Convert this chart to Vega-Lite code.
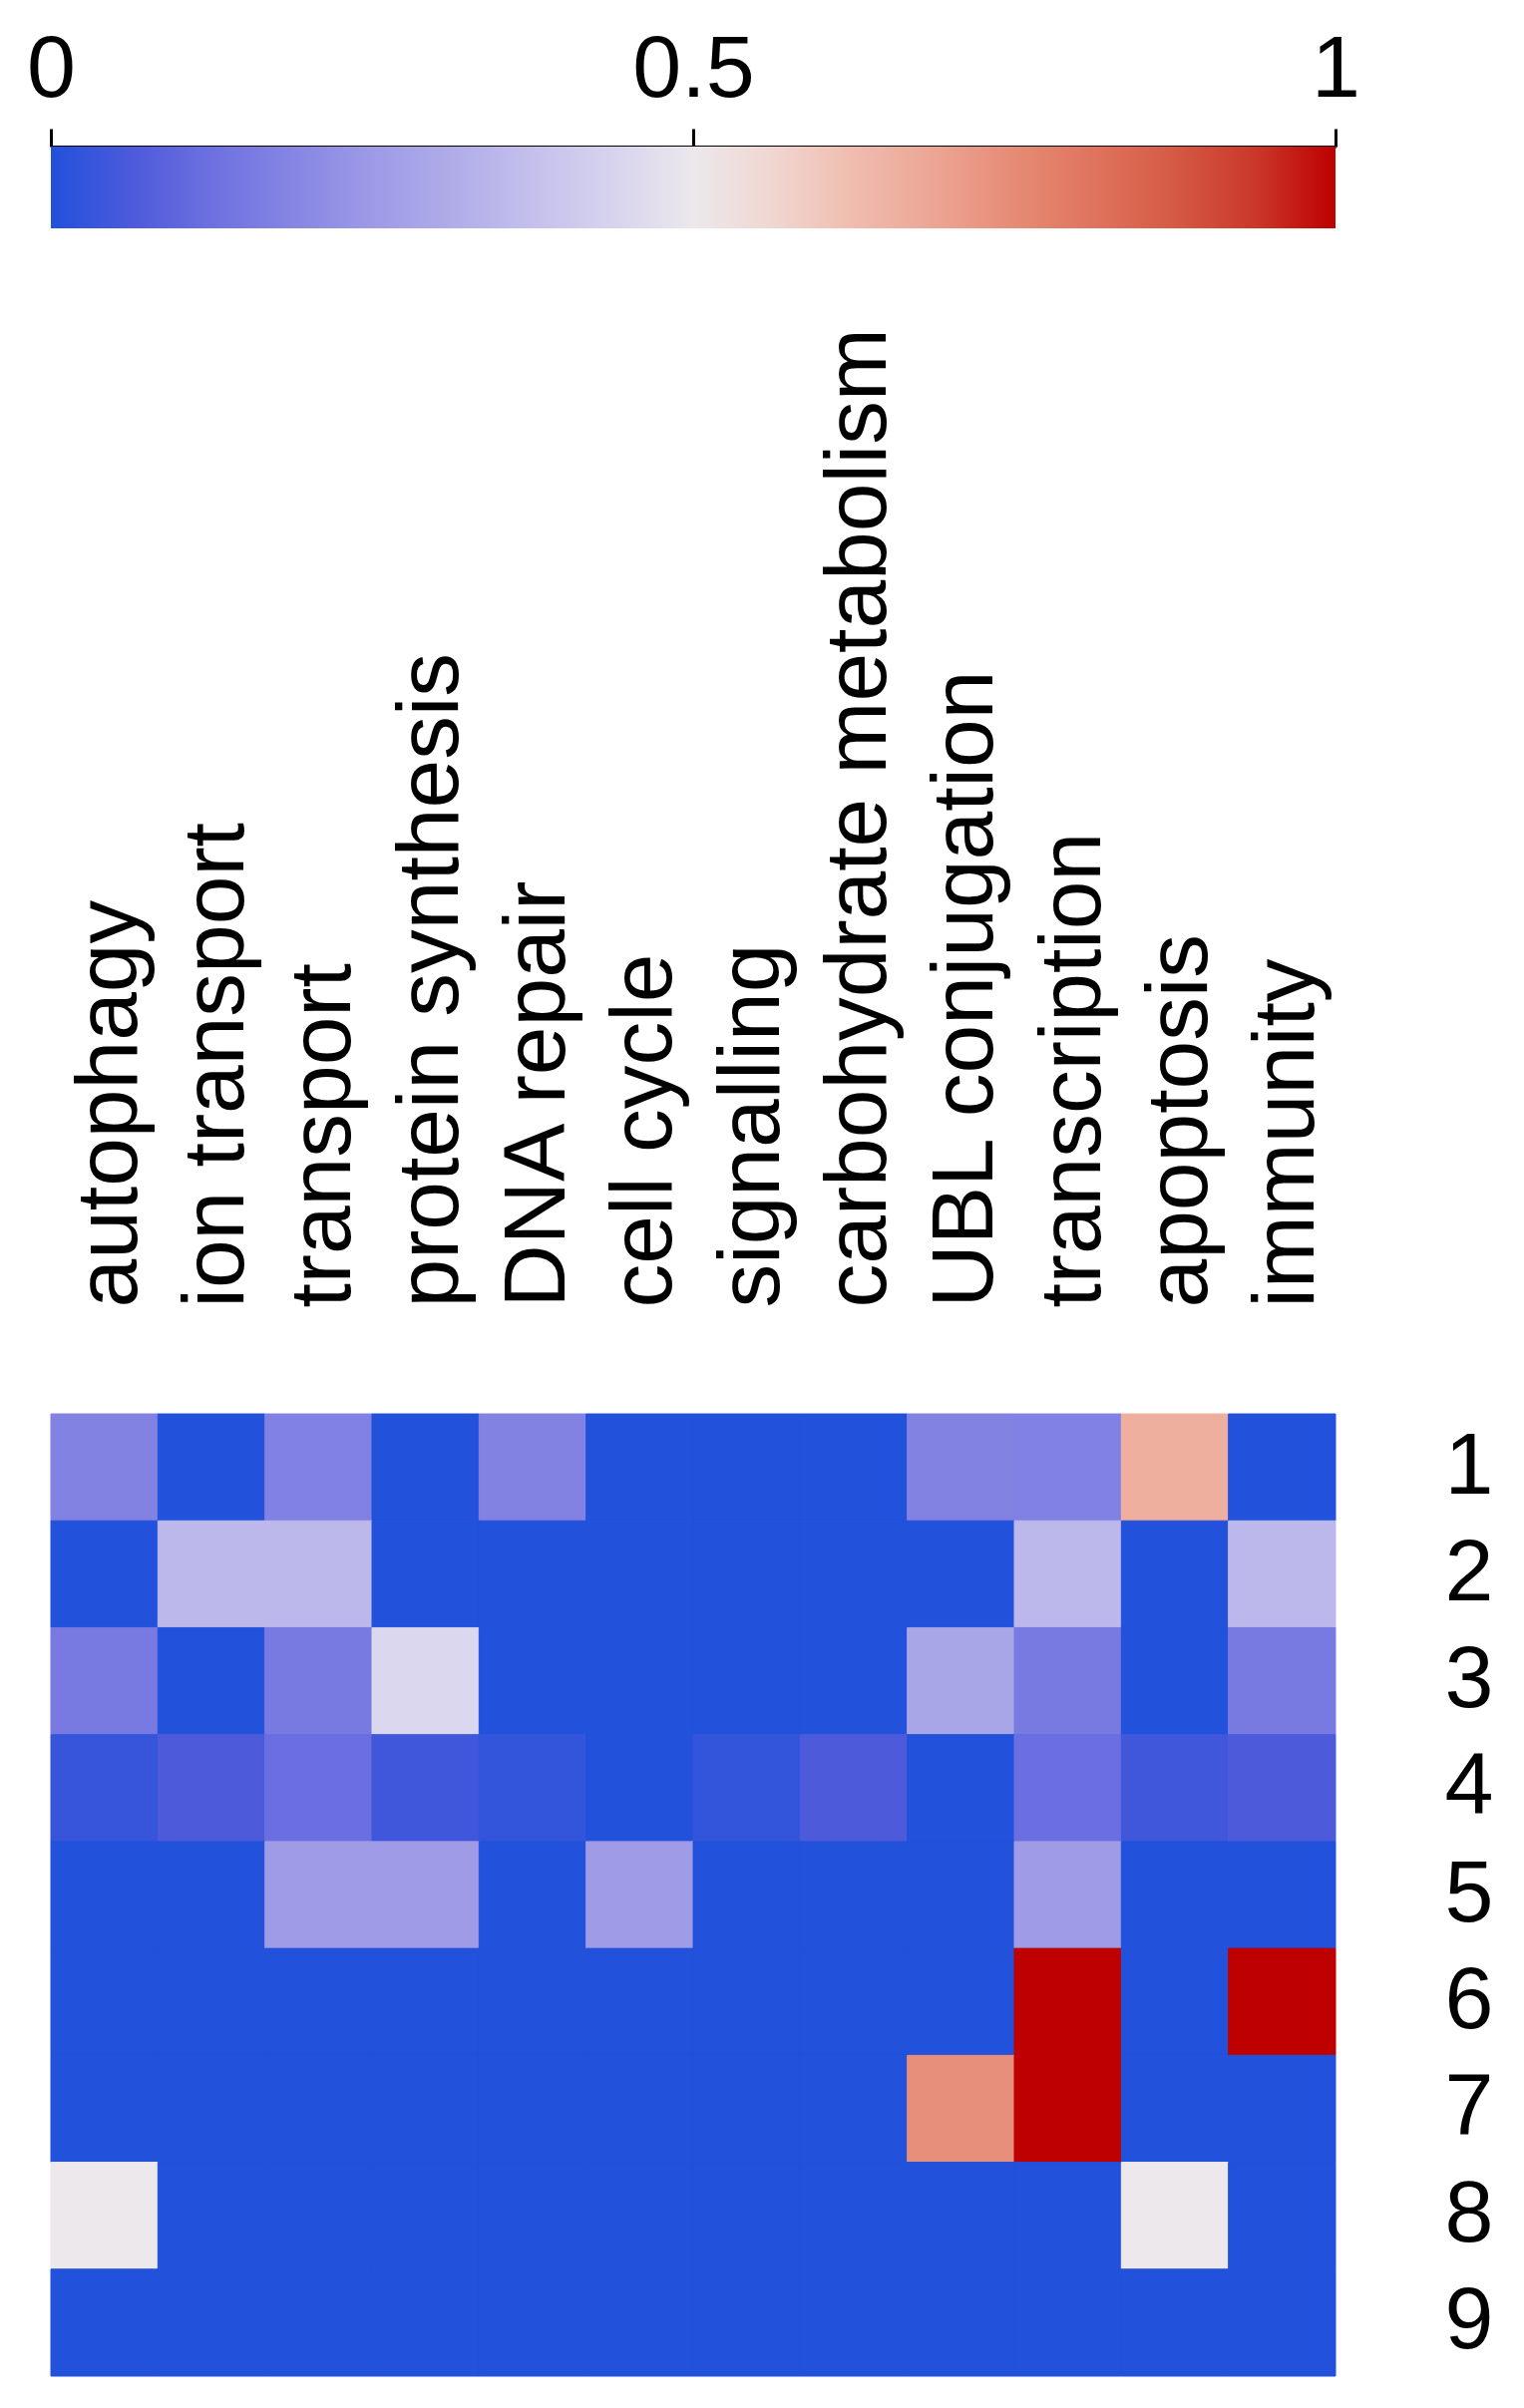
{
  "$schema": "https://vega.github.io/schema/vega-lite/v6.json",
  "padding": {"left": 26, "top": 26, "right": 5, "bottom": 5},
  "config": {"view": {"stroke": null}, "font": "Liberation Sans", "concat": {"spacing": 99}},
  "vconcat": [
    {
      "width": 1288,
      "height": 82,
      "data": {"values": [{"lo": 0, "hi": 1}]},
      "mark": {
        "type": "rect",
        "color": {
          "gradient": "linear", "x1": 0, "y1": 0, "x2": 1, "y2": 0,
          "stops": [
            {"offset": 0, "color": "#2251db"},
            {"offset": 0.0625, "color": "#4c5adb"},
            {"offset": 0.125, "color": "#6d70e0"},
            {"offset": 0.1875, "color": "#8585e3"},
            {"offset": 0.25, "color": "#9d9ae7"},
            {"offset": 0.3125, "color": "#b0ace9"},
            {"offset": 0.375, "color": "#c4c0ec"},
            {"offset": 0.4375, "color": "#d7d3ee"},
            {"offset": 0.5, "color": "#ece8ec"},
            {"offset": 0.5625, "color": "#f0d6d0"},
            {"offset": 0.625, "color": "#f0bcae"},
            {"offset": 0.6875, "color": "#eca594"},
            {"offset": 0.75, "color": "#e68b75"},
            {"offset": 0.8125, "color": "#df735d"},
            {"offset": 0.875, "color": "#d55a43"},
            {"offset": 0.9375, "color": "#ca3828"},
            {"offset": 1, "color": "#be0000"}
          ]
        }
      },
      "encoding": {
        "x": {
          "field": "lo", "type": "quantitative",
          "scale": {"domain": [0, 1], "nice": false, "zero": false},
          "axis": {
            "orient": "top", "values": [0, 0.5, 1], "format": "~g", "title": null,
            "grid": false, "labelFontSize": 88, "labelColor": "black", "labelFlush": false,
            "labelPadding": 15, "tickSize": 18, "tickWidth": 3, "tickColor": "black",
            "domainColor": "black", "domainWidth": 3
          }
        },
        "x2": {"field": "hi"}
      }
    },
    {
      "width": 1288,
      "height": 965,
      "data": {"values": [
        {"r":"1","c":"autophagy","v":0.18},{"r":"1","c":"ion transport","v":0},{"r":"1","c":"transport","v":0.175},{"r":"1","c":"protein synthesis","v":0},{"r":"1","c":"DNA repair","v":0.18},{"r":"1","c":"cell cycle","v":0},{"r":"1","c":"signalling","v":0},{"r":"1","c":"carbohydrate metabolism","v":0},{"r":"1","c":"UBL conjugation","v":0.18},{"r":"1","c":"transcription","v":0.175},{"r":"1","c":"apoptosis","v":0.66},{"r":"1","c":"immunity","v":0},
        {"r":"2","c":"autophagy","v":0},{"r":"2","c":"ion transport","v":0.35},{"r":"2","c":"transport","v":0.35},{"r":"2","c":"protein synthesis","v":0},{"r":"2","c":"DNA repair","v":0},{"r":"2","c":"cell cycle","v":0},{"r":"2","c":"signalling","v":0},{"r":"2","c":"carbohydrate metabolism","v":0},{"r":"2","c":"UBL conjugation","v":0},{"r":"2","c":"transcription","v":0.35},{"r":"2","c":"apoptosis","v":0},{"r":"2","c":"immunity","v":0.35},
        {"r":"3","c":"autophagy","v":0.155},{"r":"3","c":"ion transport","v":0},{"r":"3","c":"transport","v":0.155},{"r":"3","c":"protein synthesis","v":0.45},{"r":"3","c":"DNA repair","v":0},{"r":"3","c":"cell cycle","v":0},{"r":"3","c":"signalling","v":0},{"r":"3","c":"carbohydrate metabolism","v":0},{"r":"3","c":"UBL conjugation","v":0.29},{"r":"3","c":"transcription","v":0.155},{"r":"3","c":"apoptosis","v":0},{"r":"3","c":"immunity","v":0.155},
        {"r":"4","c":"autophagy","v":0.03},{"r":"4","c":"ion transport","v":0.065},{"r":"4","c":"transport","v":0.12},{"r":"4","c":"protein synthesis","v":0.045},{"r":"4","c":"DNA repair","v":0.025},{"r":"4","c":"cell cycle","v":0},{"r":"4","c":"signalling","v":0.025},{"r":"4","c":"carbohydrate metabolism","v":0.065},{"r":"4","c":"UBL conjugation","v":0},{"r":"4","c":"transcription","v":0.12},{"r":"4","c":"apoptosis","v":0.045},{"r":"4","c":"immunity","v":0.065},
        {"r":"5","c":"autophagy","v":0},{"r":"5","c":"ion transport","v":0},{"r":"5","c":"transport","v":0.255},{"r":"5","c":"protein synthesis","v":0.255},{"r":"5","c":"DNA repair","v":0},{"r":"5","c":"cell cycle","v":0.255},{"r":"5","c":"signalling","v":0},{"r":"5","c":"carbohydrate metabolism","v":0},{"r":"5","c":"UBL conjugation","v":0},{"r":"5","c":"transcription","v":0.255},{"r":"5","c":"apoptosis","v":0},{"r":"5","c":"immunity","v":0},
        {"r":"6","c":"autophagy","v":0},{"r":"6","c":"ion transport","v":0},{"r":"6","c":"transport","v":0},{"r":"6","c":"protein synthesis","v":0},{"r":"6","c":"DNA repair","v":0},{"r":"6","c":"cell cycle","v":0},{"r":"6","c":"signalling","v":0},{"r":"6","c":"carbohydrate metabolism","v":0},{"r":"6","c":"UBL conjugation","v":0},{"r":"6","c":"transcription","v":1},{"r":"6","c":"apoptosis","v":0},{"r":"6","c":"immunity","v":1},
        {"r":"7","c":"autophagy","v":0},{"r":"7","c":"ion transport","v":0},{"r":"7","c":"transport","v":0},{"r":"7","c":"protein synthesis","v":0},{"r":"7","c":"DNA repair","v":0},{"r":"7","c":"cell cycle","v":0},{"r":"7","c":"signalling","v":0},{"r":"7","c":"carbohydrate metabolism","v":0},{"r":"7","c":"UBL conjugation","v":0.74},{"r":"7","c":"transcription","v":1},{"r":"7","c":"apoptosis","v":0},{"r":"7","c":"immunity","v":0},
        {"r":"8","c":"autophagy","v":0.5},{"r":"8","c":"ion transport","v":0},{"r":"8","c":"transport","v":0},{"r":"8","c":"protein synthesis","v":0},{"r":"8","c":"DNA repair","v":0},{"r":"8","c":"cell cycle","v":0},{"r":"8","c":"signalling","v":0},{"r":"8","c":"carbohydrate metabolism","v":0},{"r":"8","c":"UBL conjugation","v":0},{"r":"8","c":"transcription","v":0},{"r":"8","c":"apoptosis","v":0.5},{"r":"8","c":"immunity","v":0},
        {"r":"9","c":"autophagy","v":0},{"r":"9","c":"ion transport","v":0},{"r":"9","c":"transport","v":0},{"r":"9","c":"protein synthesis","v":0},{"r":"9","c":"DNA repair","v":0},{"r":"9","c":"cell cycle","v":0},{"r":"9","c":"signalling","v":0},{"r":"9","c":"carbohydrate metabolism","v":0},{"r":"9","c":"UBL conjugation","v":0},{"r":"9","c":"transcription","v":0},{"r":"9","c":"apoptosis","v":0},{"r":"9","c":"immunity","v":0}
      ]},
      "mark": {"type": "rect", "strokeWidth": 1},
      "encoding": {
        "x": {
          "field": "c", "type": "nominal",
          "sort": ["autophagy", "ion transport", "transport", "protein synthesis", "DNA repair", "cell cycle", "signalling", "carbohydrate metabolism", "UBL conjugation", "transcription", "apoptosis", "immunity"],
          "scale": {"paddingInner": 0, "paddingOuter": 0},
          "axis": {
            "orient": "top", "labelAngle": -90, "labelFontSize": 87.5, "labelColor": "black",
            "labelPadding": 107, "labelOffset": 6, "ticks": false, "domain": false, "title": null, "labelLimit": 0
          }
        },
        "y": {
          "field": "r", "type": "nominal",
          "scale": {"paddingInner": 0, "paddingOuter": 0},
          "axis": {
            "orient": "right", "labelAngle": 0, "labelFontSize": 88, "labelColor": "black",
            "labelPadding": 109, "ticks": false, "domain": false, "title": null
          }
        },
        "color": {
          "field": "v", "type": "quantitative", "legend": null,
          "scale": {
            "domain": [0, 0.0625, 0.125, 0.1875, 0.25, 0.3125, 0.375, 0.4375, 0.5, 0.5625, 0.625, 0.6875, 0.75, 0.8125, 0.875, 0.9375, 1],
            "range": ["#2251db", "#4c5adb", "#6d70e0", "#8585e3", "#9d9ae7", "#b0ace9", "#c4c0ec", "#d7d3ee", "#ece8ec", "#f0d6d0", "#f0bcae", "#eca594", "#e68b75", "#df735d", "#d55a43", "#ca3828", "#be0000"],
            "interpolate": "rgb"
          }
        },
        "stroke": {
          "field": "v", "type": "quantitative", "legend": null,
          "scale": {
            "domain": [0, 0.0625, 0.125, 0.1875, 0.25, 0.3125, 0.375, 0.4375, 0.5, 0.5625, 0.625, 0.6875, 0.75, 0.8125, 0.875, 0.9375, 1],
            "range": ["#2251db", "#4c5adb", "#6d70e0", "#8585e3", "#9d9ae7", "#b0ace9", "#c4c0ec", "#d7d3ee", "#ece8ec", "#f0d6d0", "#f0bcae", "#eca594", "#e68b75", "#df735d", "#d55a43", "#ca3828", "#be0000"],
            "interpolate": "rgb"
          }
        }
      }
    }
  ]
}
